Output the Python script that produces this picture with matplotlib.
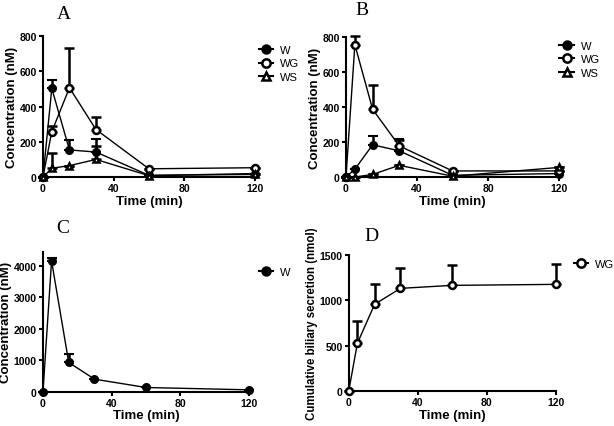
import numpy as np
import matplotlib
matplotlib.use("Agg")
import matplotlib.pyplot as plt
from matplotlib.lines import Line2D

plt.rcParams['font.family'] = ['Liberation Sans', 'DejaVu Sans']

time = [0, 5, 15, 30, 60, 120]

# panel A
a_w = [0, 503, 154, 142, 10, 15]
a_w_err = [0, 47, 55, 76, 0, 0]
a_wg = [0, 258, 507, 270, 47, 53]
a_wg_err = [0, 32, 223, 73, 0, 0]
a_ws = [0, 50, 65, 100, 8, 20]
a_ws_err = [0, 85, 0, 75, 0, 0]

# panel B
b_w = [0, 45, 184, 150, 10, 20]
b_w_err = [0, 0, 51, 65, 0, 0]
b_wg = [0, 756, 387, 178, 35, 35]
b_wg_err = [0, 48, 139, 34, 0, 0]
b_ws = [0, 0, 15, 67, 5, 55]
b_ws_err = [0, 0, 0, 0, 0, 0]

# panel C
c_w = [0, 4160, 934, 403, 138, 64]
c_w_err = [0, 85, 270, 0, 0, 0]

# panel D
d_wg = [0, 526, 956, 1132, 1165, 1176]
d_wg_err = [0, 250, 224, 225, 228, 224]

W_STYLE = dict(marker='o', mfc='black', mec='black', color='black', mew=1.5)
WG_STYLE = dict(marker='o', mfc='white', mec='black', color='black', mew=1.8)
WS_STYLE = dict(marker='^', mfc='white', mec='black', color='black', mew=1.8)


def series(ax, y, err, style):
    ax.errorbar(time, y, yerr=[np.zeros(len(err)), err],
                ms=5, lw=1.0, elinewidth=1.8, capsize=3.5, capthick=1.8,
                ecolor='black', clip_on=False, zorder=3, **style)


def style_axes(ax, ylim, yticks, ylabel, ylabel_size=9.5):
    ax.set_xlim(0, 120)
    ax.set_ylim(*ylim)
    ax.set_xticks([0, 40, 80, 120])
    ax.set_yticks(yticks)
    for s in ['top', 'right']:
        ax.spines[s].set_visible(False)
    for s in ['left', 'bottom']:
        ax.spines[s].set_linewidth(1.5)
    ax.tick_params(width=1.5, length=3, labelsize=7.5, pad=1.5)
    for t in ax.get_xticklabels() + ax.get_yticklabels():
        t.set_fontweight('bold')
    ax.set_xlabel('Time (min)', fontsize=9.5, fontweight='bold', labelpad=1)
    ax.set_ylabel(ylabel, fontsize=ylabel_size, fontweight='bold', labelpad=1)


def add_legend(ax, labels, styles, pos):
    handles = [Line2D([], [], ms=6, lw=1.5, **s) for s in styles]
    ax.legend(handles, labels, loc='upper left', bbox_to_anchor=pos,
              bbox_transform=ax.figure.transFigure, frameon=False, fontsize=8,
              handlelength=1.3, handletextpad=0.6, labelspacing=0.3, borderpad=0)


fig = plt.figure(figsize=(6.14, 4.27), dpi=100)
axA = fig.add_axes([0.070, 0.583, 0.345, 0.330])
axB = fig.add_axes([0.5635, 0.583, 0.347, 0.328])
axC = fig.add_axes([0.070, 0.080, 0.3355, 0.328])
axD = fig.add_axes([0.568, 0.082, 0.337, 0.3185])

series(axA, a_w, a_w_err, W_STYLE)
series(axA, a_wg, a_wg_err, WG_STYLE)
series(axA, a_ws, a_ws_err, WS_STYLE)
style_axes(axA, (0, 800), [0, 200, 400, 600, 800], 'Concentration (nM)')
add_legend(axA, ['W', 'WG', 'WS'], [W_STYLE, WG_STYLE, WS_STYLE], (0.412, 0.905))

series(axB, b_w, b_w_err, W_STYLE)
series(axB, b_wg, b_wg_err, WG_STYLE)
series(axB, b_ws, b_ws_err, WS_STYLE)
style_axes(axB, (0, 800), [0, 200, 400, 600, 800], 'Concentration (nM)')
add_legend(axB, ['W', 'WG', 'WS'], [W_STYLE, WG_STYLE, WS_STYLE], (0.902, 0.915))

series(axC, c_w, c_w_err, W_STYLE)
style_axes(axC, (0, 4450), [0, 1000, 2000, 3000, 4000], 'Concentration (nM)')
add_legend(axC, ['W'], [W_STYLE], (0.412, 0.385))

series(axD, d_wg, d_wg_err, WG_STYLE)
style_axes(axD, (0, 1500), [0, 500, 1000, 1500], 'Cumulative biliary secretion (nmol)',
           ylabel_size=8.3)
add_legend(axD, ['WG'], [WG_STYLE], (0.925, 0.405))

for letter, x, y in [('A', 0.093, 0.965), ('B', 0.578, 0.975), ('C', 0.091, 0.465), ('D', 0.593, 0.447)]:
    fig.text(x, y, letter, fontsize=14, family='Liberation Serif', va='center')

fig.savefig('out.png', dpi=100)
